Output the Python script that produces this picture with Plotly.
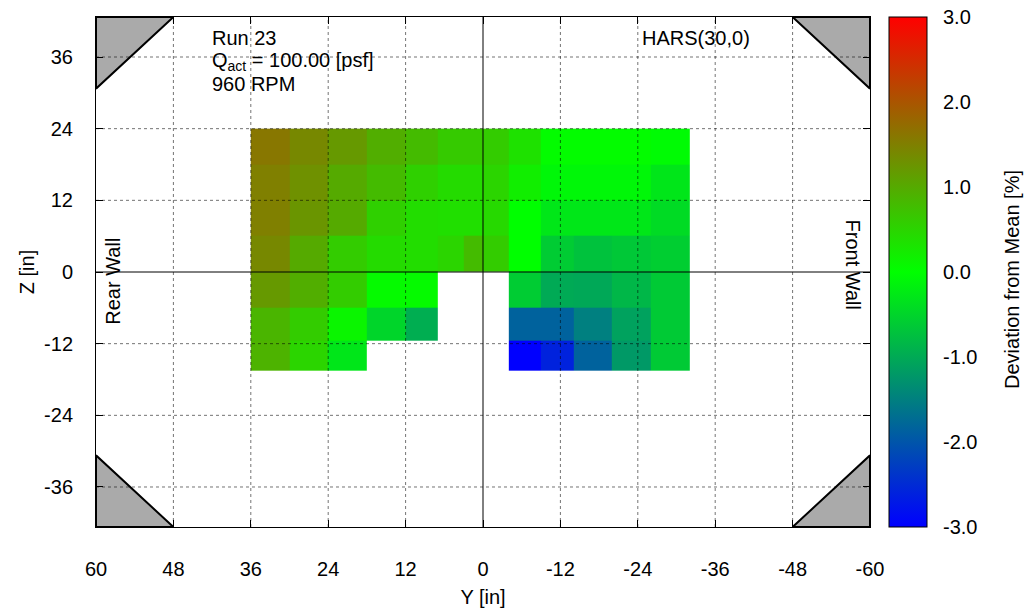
import numpy as np
import plotly.graph_objects as go

# Probe grid: cell edges in tunnel coordinates [in]
y_edges = [36, 30, 24, 18, 12, 7, 3, 0, -4, -9, -14, -20, -26, -32]   # horizontal (Y)
z_edges = [24, 18, 12, 6, 0, -6, -11.5, -16.5]                         # vertical (Z), top to bottom

# Deviation from mean dynamic pressure [%], rows top->bottom, columns Y=+36 -> -32
dev = [
    [1.60, 1.40, 1.20, 0.95, 0.80, 0.62, 0.62, 0.60, 0.35, 0.03, 0.03, 0.03, -0.05],
    [1.50, 1.30, 1.00, 0.80, 0.55, 0.42, 0.42, 0.50, 0.20, -0.10, -0.10, -0.10, -0.30],
    [1.50, 1.25, 1.00, 0.55, 0.40, 0.38, 0.38, 0.45, 0.00, -0.28, -0.28, -0.28, -0.42],
    [1.40, 1.00, 0.60, 0.42, 0.40, 0.50, 0.80, 0.60, 0.00, -0.60, -0.72, -0.65, -0.58],
    [1.20, 0.95, 0.60, 0.06, 0.06, None, None, None, -0.60, -1.00, -1.02, -0.85, -0.62],
    [0.87, 0.60, 0.12, -0.50, -0.95, None, None, None, -1.85, -1.85, -1.50, -1.10, -0.62],
    [0.90, 0.50, -0.30, None, None, None, None, None, -3.00, -2.60, -1.85, -1.20, -0.62],
]

y_ticks = [60, 48, 36, 24, 12, 0, -12, -24, -36, -48, -60]
z_ticks = [36, 24, 12, 0, -12, -24, -36]
cb_ticks = [-3, -2, -1, 0, 1, 2, 3]

Y_HALF = 60.0      # half width of test section
Z_HALF = 42.7      # half height of test section
FILLET = 12.0      # corner fillet leg length

FONT = "Liberation Sans, Arial, Helvetica, sans-serif"
FS = 20

# heatmap bricks want increasing edges
xe = np.array(y_edges[::-1], dtype=float)
ye = np.array(z_edges[::-1], dtype=float)
z = np.array([[np.nan if v is None else v for v in row] for row in dev], dtype=float)
z = z[::-1, ::-1]

fig = go.Figure()

fig.add_trace(go.Heatmap(
    x=xe, y=ye, z=z,
    zmin=-3, zmax=3,
    colorscale=[[0.0, "rgb(0,0,255)"], [0.5, "rgb(0,255,0)"], [1.0, "rgb(255,0,0)"]],
    hoverongaps=False,
    colorbar=dict(
        x=(889 - 96) / 774, xanchor="left", xpad=0,
        y=0.5, yanchor="middle", len=1, lenmode="fraction", ypad=0,
        thickness=38, thicknessmode="pixels",
        outlinewidth=1, outlinecolor="black",
        tickvals=cb_ticks, ticktext=[f"{v:.1f}" for v in cb_ticks],
        ticks="outside", ticklen=12, tickcolor="rgba(0,0,0,0)",
        tickfont=dict(family=FONT, size=FS, color="black"),
    ),
))

# corner fillets of the test section
sx, sz = [1, -1, -1, 1], [1, 1, -1, -1]
for cx, cz in zip(sx, sz):
    X0, Z0 = cx * Y_HALF, cz * Z_HALF
    fig.add_trace(go.Scatter(
        x=[X0, X0 - cx * FILLET, X0, X0],
        y=[Z0, Z0, Z0 - cz * FILLET, Z0],
        mode="lines", fill="toself", fillcolor="#aaaaaa",
        line=dict(color="black", width=2), hoverinfo="skip", showlegend=False,
    ))

# dotted grid and zero lines drawn on top of the cells
shapes = []
for v in y_ticks[1:-1]:
    if v == 0:
        continue
    shapes.append(dict(type="line", xref="x", yref="paper", x0=v, x1=v, y0=0, y1=1,
                       line=dict(color="rgba(0,0,0,0.55)", width=1, dash="dot"), layer="above"))
for v in z_ticks:
    if v == 0:
        continue
    shapes.append(dict(type="line", xref="paper", yref="y", x0=0, x1=1, y0=v, y1=v,
                       line=dict(color="rgba(0,0,0,0.55)", width=1, dash="dot"), layer="above"))
shapes.append(dict(type="line", xref="x", yref="paper", x0=0, x1=0, y0=0, y1=1,
                   line=dict(color="black", width=1), layer="above"))
shapes.append(dict(type="line", xref="paper", yref="y", x0=0, x1=1, y0=0, y1=0,
                   line=dict(color="black", width=1), layer="above"))
# colour box tick marks on both edges
cb_x0 = (889 - 96) / 774
cb_x1 = (927 - 96) / 774
tk = 6 / 774
for v in cb_ticks[1:-1]:
    yp = (v + 3) / 6
    for a, b in [(cb_x0, cb_x0 + tk), (cb_x1 - tk, cb_x1)]:
        shapes.append(dict(type="line", xref="paper", yref="paper", x0=a, x1=b, y0=yp, y1=yp,
                           line=dict(color="black", width=1), layer="above"))

annotations = [
    dict(x=42.3, y=39.2, text="Run 23", xanchor="left", yanchor="middle"),
    dict(x=42.3, y=35.3, text="Q<sub>act</sub> = 100.00 [psf]", xanchor="left", yanchor="middle"),
    dict(x=42.3, y=31.4, text="960 RPM", xanchor="left", yanchor="middle"),
    dict(x=-33, y=39.2, text="HARS(30,0)", xanchor="center", yanchor="middle"),
    dict(x=57.4, y=-1.5, text="Rear Wall", textangle=-90, xanchor="center", yanchor="middle"),
    dict(x=-57.4, y=1.2, text="Front Wall", textangle=90, xanchor="center", yanchor="middle"),
]
for a in annotations:
    a.update(xref="x", yref="y", showarrow=False, font=dict(family=FONT, size=FS, color="black"))

# colour box label
annotations.append(dict(
    x=(1012 - 96) / 774, y=(527 - 280) / 510, xref="paper", yref="paper",
    text="Deviation from Mean [%]", textangle=-90, showarrow=False,
    xanchor="center", yanchor="middle", font=dict(family=FONT, size=FS, color="black"),
))

axis_common = dict(
    showgrid=False, zeroline=False,
    showline=True, linecolor="black", linewidth=1, mirror="ticks",
    ticks="inside", ticklen=7, tickcolor="black", tickwidth=1,
    tickfont=dict(family=FONT, size=FS, color="black"),
    layer="above traces",
)

fig.update_layout(
    width=1031, height=616,
    margin=dict(l=96, r=161, t=17, b=89),
    paper_bgcolor="white", plot_bgcolor="white",
    font=dict(family=FONT, size=FS, color="black"),
    showlegend=False,
    xaxis=dict(range=[Y_HALF, -Y_HALF], tickvals=y_ticks, ticktext=[str(v) for v in y_ticks],
               ticklabelstandoff=24,
               title=dict(text="Y [in]", standoff=10, font=dict(family=FONT, size=FS)),
               **axis_common),
    yaxis=dict(range=[-Z_HALF, Z_HALF], tickvals=z_ticks, ticktext=[str(v) for v in z_ticks],
               ticklabelstandoff=18,
               title=dict(text="Z [in]", standoff=4, font=dict(family=FONT, size=FS)),
               **axis_common),
    shapes=shapes,
    annotations=annotations,
)

fig.write_html("out.html")
